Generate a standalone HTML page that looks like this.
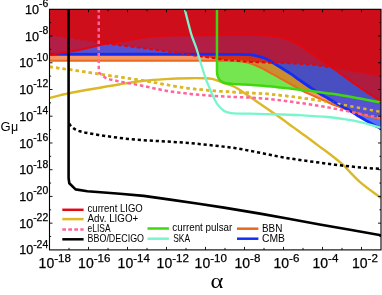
<!DOCTYPE html>
<html><head><meta charset="utf-8"><title>chart</title>
<style>html,body{margin:0;padding:0;background:#fff;}svg{display:block;}svg{will-change:transform;}text{font-family:"Liberation Sans",sans-serif;fill:#000;}.ser{font-family:"Liberation Serif",serif;}</style></head><body>
<svg width="382" height="295" viewBox="0 0 382 295">
<rect x="0" y="0" width="382" height="295" fill="#fff"/>
<defs><clipPath id="c"><rect x="49.5" y="9.3" width="331.5" height="240.6"/></clipPath></defs>
<defs><clipPath id="yd"><path clip-rule="evenodd" d="M49.5 9.3 H381.0 V249.9 H49.5 Z M49.5 60.7 L95.1 60.7 L140.8 60.6 L186.4 60.6 L232.0 60.7 L233.5 60.8 L235.0 60.9 L236.5 61.0 L238.0 61.2 L239.7 61.4 L241.4 61.5 L243.1 61.8 L244.8 62.0 L246.1 62.2 L247.4 62.5 L248.7 62.8 L250.0 63.2 L250.8 63.5 L251.6 63.8 L252.3 64.1 L253.1 64.4 L253.8 64.7 L254.6 64.9 L255.3 65.2 L256.0 65.5 L257.0 66.0 L258.0 66.4 L258.9 66.9 L259.9 67.4 L261.0 67.9 L262.2 68.4 L263.3 68.9 L264.4 69.5 L266.5 70.6 L268.6 71.8 L270.7 73.0 L272.8 74.2 L274.9 75.4 L276.9 76.5 L279.0 77.6 L281.1 78.8 L282.8 79.7 L284.5 80.7 L286.2 81.6 L287.9 82.6 L289.7 83.6 L291.4 84.6 L293.2 85.6 L295.0 86.6 L297.1 87.8 L299.2 89.0 L301.3 90.2 L303.5 91.3 L306.6 92.8 L309.7 94.2 L312.9 95.6 L316.0 97.0 L318.0 97.9 L320.0 98.8 L322.1 99.7 L324.1 100.6 L326.1 101.5 L328.2 102.5 L330.2 103.4 L332.3 104.3 L334.2 105.0 L336.1 105.7 L338.1 106.4 L340.0 107.1 L342.6 108.1 L345.1 109.1 L347.7 110.1 L350.3 111.0 L352.7 111.8 L355.1 112.5 L357.5 113.3 L359.9 114.0 L361.5 114.5 L363.2 115.0 L364.8 115.5 L366.5 115.9 L370.1 116.8 L373.7 117.6 L377.4 118.4 L381.0 119.2 L382.0 8.3 L48.5 8.3Z M49.5 54.3 L96.1 54.3 L142.8 54.3 L189.4 54.2 L236.0 54.3 L239.4 54.3 L242.7 54.4 L246.1 54.5 L249.4 54.7 L251.5 54.9 L253.6 55.2 L255.7 55.6 L257.8 56.1 L259.6 56.6 L261.3 57.1 L263.0 57.7 L264.7 58.3 L265.9 58.8 L267.1 59.5 L268.3 60.1 L269.5 60.8 L272.0 62.2 L274.5 63.7 L277.0 65.2 L279.5 66.7 L282.5 68.5 L285.4 70.4 L288.4 72.3 L291.3 74.2 L293.4 75.7 L295.6 77.2 L297.7 78.7 L299.8 80.2 L302.7 82.2 L305.6 84.2 L308.5 86.2 L311.4 88.2 L313.4 89.5 L315.3 90.8 L317.3 92.1 L319.3 93.4 L321.5 94.7 L323.7 96.0 L326.0 97.2 L328.2 98.5 L330.2 99.7 L332.2 100.9 L334.3 102.0 L336.3 103.2 L337.7 104.0 L339.1 104.8 L340.6 105.5 L342.0 106.3 L343.8 107.3 L345.5 108.2 L347.3 109.2 L349.0 110.2 L351.0 111.4 L353.0 112.7 L355.0 114.0 L357.0 115.2 L359.0 116.4 L361.0 117.6 L363.0 118.7 L365.0 119.9 L367.0 121.1 L369.0 122.3 L371.0 123.5 L373.0 124.6 L375.0 125.6 L377.0 126.6 L379.0 127.6 L381.0 128.6 L382.0 8.3 L48.5 8.3Z"/></clipPath></defs>
<g clip-path="url(#c)" fill="none" stroke-linejoin="round">
<path d="M49.50 66.70 C66.33 69.20 83.17 71.70 100.00 74.20 C114.57 76.36 129.15 78.40 143.70 80.70 C150.82 81.83 157.89 83.31 165.00 84.50 C173.42 85.91 181.83 87.40 190.30 88.50 C197.51 89.44 204.76 90.01 212.00 90.60 C219.89 91.24 227.80 91.74 235.70 92.20 C243.73 92.67 251.78 92.85 259.80 93.40 C267.21 93.91 274.61 94.59 282.00 95.40 C288.02 96.06 294.00 96.98 300.00 97.80 C307.17 98.78 314.36 99.62 321.50 100.80 C330.83 102.35 340.10 104.27 349.40 106.00 C359.93 107.97 370.47 109.93 381.00 111.90" stroke="rgb(220,184,38)" stroke-width="2.5" stroke-dasharray="3.3 3.3"/>
<polygon points="217.0,9.0 217.0,24.6 217.0,40.3 217.0,55.9 217.0,71.5 217.0,72.3 217.1,73.0 217.2,73.8 217.3,74.5 217.5,75.3 217.7,76.1 217.9,76.8 218.2,77.6 218.5,78.2 218.8,78.7 219.2,79.3 219.6,79.8 220.0,80.2 220.3,80.6 220.8,81.0 221.2,81.3 221.7,81.6 222.3,82.0 222.9,82.2 223.5,82.5 224.2,82.8 224.8,83.0 225.5,83.2 226.2,83.3 227.9,83.5 229.5,83.7 231.2,83.9 232.9,84.0 235.6,84.2 238.4,84.3 241.1,84.5 243.9,84.6 247.9,84.8 251.9,85.1 255.8,85.3 259.8,85.6 264.9,86.0 269.9,86.5 275.0,87.0 280.0,87.5 283.9,87.9 287.9,88.3 291.8,88.8 295.7,89.2 299.6,89.7 303.6,90.1 307.5,90.6 311.4,91.1 315.3,91.6 319.3,92.1 323.2,92.7 327.1,93.2 330.3,93.6 333.5,94.1 336.6,94.5 339.8,95.0 344.9,95.9 349.9,96.8 355.0,97.7 360.0,98.6 365.3,99.6 370.5,100.5 375.8,101.5 381.0,102.5 382.0,8.3" fill="rgb(60,220,5)" fill-opacity="0.7"/>
<polygon points="49.5,60.7 95.1,60.7 140.8,60.6 186.4,60.6 232.0,60.7 233.5,60.8 235.0,60.9 236.5,61.0 238.0,61.2 239.7,61.4 241.4,61.5 243.1,61.8 244.8,62.0 246.1,62.2 247.4,62.5 248.7,62.8 250.0,63.2 250.8,63.5 251.6,63.8 252.3,64.1 253.1,64.4 253.8,64.7 254.6,64.9 255.3,65.2 256.0,65.5 257.0,66.0 258.0,66.4 258.9,66.9 259.9,67.4 261.0,67.9 262.2,68.4 263.3,68.9 264.4,69.5 266.5,70.6 268.6,71.8 270.7,73.0 272.8,74.2 274.9,75.4 276.9,76.5 279.0,77.6 281.1,78.8 282.8,79.7 284.5,80.7 286.2,81.6 287.9,82.6 289.7,83.6 291.4,84.6 293.2,85.6 295.0,86.6 297.1,87.8 299.2,89.0 301.3,90.2 303.5,91.3 306.6,92.8 309.7,94.2 312.9,95.6 316.0,97.0 318.0,97.9 320.0,98.8 322.1,99.7 324.1,100.6 326.1,101.5 328.2,102.5 330.2,103.4 332.3,104.3 334.2,105.0 336.1,105.7 338.1,106.4 340.0,107.1 342.6,108.1 345.1,109.1 347.7,110.1 350.3,111.0 352.7,111.8 355.1,112.5 357.5,113.3 359.9,114.0 361.5,114.5 363.2,115.0 364.8,115.5 366.5,115.9 370.1,116.8 373.7,117.6 377.4,118.4 381.0,119.2 382.0,8.3 48.5,8.3" fill="rgb(240,100,30)" fill-opacity="0.68"/>
<polygon points="49.5,54.3 96.1,54.3 142.8,54.3 189.4,54.2 236.0,54.3 239.4,54.3 242.7,54.4 246.1,54.5 249.4,54.7 251.5,54.9 253.6,55.2 255.7,55.6 257.8,56.1 259.6,56.6 261.3,57.1 263.0,57.7 264.7,58.3 265.9,58.8 267.1,59.5 268.3,60.1 269.5,60.8 272.0,62.2 274.5,63.7 277.0,65.2 279.5,66.7 282.5,68.5 285.4,70.4 288.4,72.3 291.3,74.2 293.4,75.7 295.6,77.2 297.7,78.7 299.8,80.2 302.7,82.2 305.6,84.2 308.5,86.2 311.4,88.2 313.4,89.5 315.3,90.8 317.3,92.1 319.3,93.4 321.5,94.7 323.7,96.0 326.0,97.2 328.2,98.5 330.2,99.7 332.2,100.9 334.3,102.0 336.3,103.2 337.7,104.0 339.1,104.8 340.6,105.5 342.0,106.3 343.8,107.3 345.5,108.2 347.3,109.2 349.0,110.2 351.0,111.4 353.0,112.7 355.0,114.0 357.0,115.2 359.0,116.4 361.0,117.6 363.0,118.7 365.0,119.9 367.0,121.1 369.0,122.3 371.0,123.5 373.0,124.6 375.0,125.6 377.0,126.6 379.0,127.6 381.0,128.6 382.0,8.3 48.5,8.3" fill="rgb(18,52,255)" fill-opacity="0.7"/>
<polygon points="49.5,54.8 57.1,53.6 64.8,52.4 72.4,51.2 80.0,49.8 86.3,48.4 92.6,46.8 98.8,45.2 105.1,43.8 110.8,42.8 116.5,41.9 122.3,41.1 128.0,40.2 131.9,39.5 135.9,38.8 139.8,38.2 143.8,37.6 147.8,37.1 151.9,36.7 155.9,36.3 160.0,36.0 165.0,35.7 170.0,35.5 175.0,35.3 180.0,35.2 185.0,35.1 190.0,35.2 195.0,35.2 200.0,35.2 212.5,35.2 225.0,35.1 237.5,35.1 250.0,35.1 254.4,35.1 258.8,35.1 263.1,35.2 267.5,35.4 270.0,35.6 272.6,35.8 275.1,36.2 277.6,36.6 280.2,37.1 282.8,37.8 285.3,38.5 287.8,39.4 290.3,40.4 292.8,41.6 295.2,42.9 297.6,44.2 299.7,45.4 301.8,46.7 303.9,48.0 305.9,49.3 308.0,50.8 310.1,52.3 312.1,53.8 314.2,55.3 318.7,58.4 323.2,61.4 327.7,64.5 332.2,67.6 338.0,71.7 343.7,75.9 349.4,80.1 355.2,84.2 358.5,86.5 361.9,88.9 365.3,91.2 368.7,93.4 371.7,95.3 374.8,97.2 377.9,99.1 381.0,101.0 382.0,8.3 48.5,8.3" fill="rgb(218,8,10)" fill-opacity="0.7"/>
<polygon points="49.5,34.4 57.1,35.6 64.7,36.8 72.4,38.0 80.0,39.2 84.5,39.9 89.0,40.6 93.5,41.3 98.0,42.0 99.8,42.3 101.5,42.7 103.3,43.1 105.1,43.4 114.8,44.7 124.4,45.8 134.1,47.0 143.8,48.2 147.9,48.7 151.9,49.3 156.0,49.9 160.0,50.5 165.3,51.2 170.5,51.9 175.8,52.7 181.0,53.4 186.2,54.2 191.4,55.0 196.7,55.8 201.9,56.6 205.4,57.1 209.0,57.5 212.5,57.9 216.0,58.4 217.7,58.7 219.4,59.1 221.1,59.4 222.8,59.7 226.0,60.0 229.2,60.3 232.5,60.5 235.7,60.7 238.3,60.9 240.8,61.2 243.4,61.4 246.0,61.6 248.9,61.8 251.9,61.9 254.8,62.1 257.8,62.2 260.7,62.3 263.6,62.5 266.6,62.6 269.5,62.7 273.7,62.8 277.9,62.9 282.1,63.1 286.3,63.2 289.7,63.3 293.1,63.5 296.4,63.6 299.8,63.8 303.3,64.0 306.8,64.3 310.3,64.5 313.8,64.9 318.4,65.5 322.9,66.2 327.5,66.9 332.0,67.6 337.4,68.5 342.8,69.4 348.2,70.4 353.6,71.3 356.3,71.7 359.0,72.1 361.7,72.5 364.4,72.9 368.6,73.7 372.7,74.5 376.9,75.4 381.0,76.2 382.0,8.3 48.5,8.3" fill="rgb(218,8,10)" fill-opacity="0.7"/>
<path d="M49.50 97.80 C55.67 96.37 61.79 94.74 68.00 93.50 C78.63 91.37 89.33 89.59 100.00 87.70 C106.66 86.52 113.32 85.35 120.00 84.30 C127.89 83.05 135.77 81.72 143.70 80.80 C150.78 79.98 157.89 79.50 165.00 79.10 C173.33 78.63 181.66 78.37 190.00 78.20 C195.00 78.10 200.00 78.14 205.00 78.30 C207.34 78.37 209.69 78.50 212.00 78.90 C213.71 79.20 215.36 79.83 217.00 80.40 C218.69 80.99 220.32 81.78 222.00 82.40 C223.48 82.95 225.00 83.40 226.50 83.90 C228.10 84.43 229.74 84.85 231.30 85.50 C233.28 86.32 235.24 87.23 237.10 88.30 C239.44 89.64 241.66 91.19 243.90 92.70 C249.53 96.49 255.11 100.36 260.70 104.20 C265.74 107.66 270.81 111.07 275.80 114.60 C281.98 118.97 288.07 123.47 294.20 127.90 C298.40 130.93 302.63 133.93 306.80 137.00 C310.56 139.76 314.26 142.61 318.00 145.40 C321.99 148.38 326.06 151.26 330.00 154.30 C333.96 157.36 338.03 160.30 341.70 163.70 C348.27 169.78 353.95 176.81 360.70 182.70 C367.08 188.27 374.23 192.90 381.00 198.00" stroke="rgb(220,184,38)" stroke-width="2.4"/>
<path d="M49.50 60.70 C110.33 60.70 171.17 60.54 232.00 60.70 C234.01 60.71 236.00 61.00 238.00 61.20 C240.25 61.43 242.52 61.63 244.75 62.00 C246.52 62.30 248.27 62.70 250.00 63.20 C251.06 63.51 252.07 64.00 253.10 64.40 C254.07 64.77 255.05 65.08 256.00 65.50 C257.32 66.08 258.59 66.78 259.90 67.40 C261.39 68.11 262.94 68.73 264.40 69.50 C267.24 71.00 270.00 72.64 272.80 74.20 C275.56 75.74 278.34 77.26 281.10 78.80 C283.37 80.06 285.64 81.33 287.90 82.60 C290.27 83.93 292.63 85.28 295.00 86.60 C297.83 88.18 300.60 89.86 303.50 91.30 C307.60 93.33 311.83 95.12 316.00 97.00 C318.69 98.22 321.40 99.39 324.10 100.60 C326.84 101.83 329.52 103.17 332.30 104.30 C334.83 105.33 337.44 106.15 340.00 107.10 C343.44 108.38 346.83 109.80 350.30 111.00 C353.47 112.10 356.69 113.03 359.90 114.00 C362.09 114.66 364.28 115.35 366.50 115.90 C371.31 117.09 376.17 118.10 381.00 119.20" stroke="rgb(232,104,32)" stroke-width="2"/>
<path d="M49.50 54.30 C111.67 54.30 173.83 54.18 236.00 54.30 C240.47 54.31 244.95 54.33 249.40 54.70 C252.23 54.93 255.04 55.45 257.80 56.10 C260.15 56.65 262.46 57.40 264.70 58.30 C266.37 58.97 267.93 59.91 269.50 60.80 C272.87 62.71 276.20 64.67 279.50 66.70 C283.47 69.14 287.42 71.62 291.30 74.20 C294.19 76.12 296.95 78.22 299.80 80.20 C303.65 82.88 307.51 85.57 311.40 88.20 C314.01 89.97 316.61 91.75 319.30 93.40 C322.21 95.19 325.24 96.79 328.20 98.50 C330.90 100.06 333.58 101.66 336.30 103.20 C338.18 104.26 340.11 105.26 342.00 106.30 C344.34 107.59 346.70 108.84 349.00 110.20 C351.70 111.80 354.31 113.57 357.00 115.20 C359.64 116.80 362.33 118.33 365.00 119.90 C367.67 121.47 370.28 123.12 373.00 124.60 C375.62 126.02 378.33 127.27 381.00 128.60" stroke="rgb(20,45,245)" stroke-width="2.8"/>
<path d="M49.50 54.80 C59.67 53.13 69.89 51.80 80.00 49.80 C88.44 48.13 96.66 45.49 105.10 43.80 C112.68 42.28 120.37 41.42 128.00 40.20 C133.27 39.36 138.51 38.29 143.80 37.60 C149.18 36.89 154.59 36.36 160.00 36.00 C166.66 35.56 173.33 35.33 180.00 35.20 C186.67 35.07 193.33 35.21 200.00 35.20 C216.67 35.18 233.33 35.05 250.00 35.10 C255.83 35.12 261.67 35.08 267.50 35.40 C270.89 35.58 274.27 35.94 277.60 36.60 C281.06 37.28 284.50 38.15 287.80 39.40 C291.20 40.69 294.41 42.45 297.60 44.20 C300.45 45.76 303.20 47.50 305.90 49.30 C308.74 51.20 311.40 53.35 314.20 55.30 C320.17 59.45 326.26 63.41 332.20 67.60 C339.93 73.05 347.48 78.74 355.20 84.20 C359.65 87.34 364.14 90.43 368.70 93.40 C372.74 96.03 376.90 98.47 381.00 101.00" stroke="rgb(228,6,14)" stroke-width="2"/>
<path d="M49.50 34.40 C59.67 36.00 69.83 37.61 80.00 39.20 C86.00 40.14 92.01 41.00 98.00 42.00 C100.38 42.40 102.71 43.08 105.10 43.40 C117.98 45.14 130.91 46.53 143.80 48.20 C149.21 48.90 154.60 49.74 160.00 50.50 C167.00 51.48 174.01 52.38 181.00 53.40 C187.97 54.42 194.92 55.60 201.90 56.60 C206.59 57.27 211.31 57.70 216.00 58.40 C218.28 58.74 220.51 59.43 222.80 59.70 C227.08 60.20 231.40 60.35 235.70 60.70 C239.13 60.98 242.56 61.37 246.00 61.60 C249.93 61.87 253.87 62.02 257.80 62.20 C261.70 62.38 265.60 62.56 269.50 62.70 C275.10 62.90 280.70 63.00 286.30 63.20 C290.80 63.36 295.30 63.52 299.80 63.80 C304.47 64.09 309.15 64.35 313.80 64.90 C319.89 65.62 325.94 66.63 332.00 67.60 C339.21 68.76 346.39 70.12 353.60 71.30 C357.19 71.89 360.82 72.26 364.40 72.90 C369.95 73.89 375.47 75.10 381.00 76.20" stroke="rgb(222,8,16)" stroke-width="1.9" stroke-dasharray="3.7 2.6"/>
<path d="M217.00 9.00 C217.00 29.83 216.90 50.67 217.00 71.50 C217.00 72.50 217.11 73.51 217.30 74.50 C217.51 75.56 217.77 76.61 218.20 77.60 C218.55 78.40 219.05 79.12 219.60 79.80 C220.06 80.37 220.60 80.88 221.20 81.30 C221.91 81.79 222.70 82.18 223.50 82.50 C224.37 82.85 225.27 83.15 226.20 83.30 C228.42 83.65 230.66 83.84 232.90 84.00 C236.56 84.27 240.23 84.38 243.90 84.60 C249.20 84.92 254.51 85.17 259.80 85.60 C266.54 86.14 273.27 86.83 280.00 87.50 C285.24 88.03 290.47 88.60 295.70 89.20 C300.94 89.80 306.17 90.43 311.40 91.10 C316.64 91.77 321.87 92.48 327.10 93.20 C331.34 93.78 335.58 94.31 339.80 95.00 C346.55 96.11 353.27 97.38 360.00 98.60 C367.00 99.88 374.00 101.20 381.00 102.50" stroke="rgb(64,214,16)" stroke-width="2.5"/>
<g clip-path="url(#yd)"><path d="M49.50 66.70 C66.33 69.20 83.17 71.70 100.00 74.20 C114.57 76.36 129.15 78.40 143.70 80.70 C150.82 81.83 157.89 83.31 165.00 84.50 C173.42 85.91 181.83 87.40 190.30 88.50 C197.51 89.44 204.76 90.01 212.00 90.60 C219.89 91.24 227.80 91.74 235.70 92.20 C243.73 92.67 251.78 92.85 259.80 93.40 C267.21 93.91 274.61 94.59 282.00 95.40 C288.02 96.06 294.00 96.98 300.00 97.80 C307.17 98.78 314.36 99.62 321.50 100.80 C330.83 102.35 340.10 104.27 349.40 106.00 C359.93 107.97 370.47 109.93 381.00 111.90" stroke="rgb(220,184,38)" stroke-width="2.5" stroke-dasharray="3.3 3.3"/></g>
<path d="M98.80 9.00 C98.80 29.50 98.67 50.00 98.80 70.50 C98.80 71.15 98.94 71.81 99.20 72.40 C99.42 72.90 99.81 73.32 100.20 73.70 C100.68 74.16 101.28 74.48 101.80 74.90 C102.55 75.51 103.21 76.23 104.00 76.80 C104.89 77.44 105.81 78.03 106.80 78.50 C107.66 78.91 108.58 79.17 109.50 79.40 C110.68 79.70 111.90 79.84 113.10 80.10 C115.64 80.64 118.15 81.31 120.70 81.80 C124.85 82.61 129.03 83.26 133.20 84.00 C135.80 84.46 138.41 84.86 141.00 85.40 C149.01 87.06 156.93 89.21 165.00 90.60 C173.38 92.05 181.85 92.96 190.30 93.90 C197.52 94.70 204.76 95.31 212.00 95.80 C219.89 96.34 227.80 96.60 235.70 97.00 C243.73 97.40 251.78 97.59 259.80 98.20 C267.22 98.76 274.61 99.62 282.00 100.50 C288.01 101.22 294.00 102.13 300.00 103.00 C307.17 104.03 314.36 104.99 321.50 106.20 C328.69 107.42 335.85 108.87 343.00 110.30 C350.15 111.73 357.24 113.42 364.40 114.80 C369.91 115.86 375.47 116.67 381.00 117.60" stroke="rgb(255,100,155)" stroke-width="2.5" stroke-dasharray="3.5 2.8"/>
<path d="M184.70 9.00 C186.93 17.53 188.89 26.15 191.40 34.60 C192.76 39.16 194.80 43.49 196.30 48.00 C197.60 51.92 198.58 55.95 199.80 59.90 C201.82 66.45 203.76 73.02 206.00 79.50 C207.00 82.40 208.32 85.17 209.50 88.00 C210.56 90.54 211.52 93.12 212.70 95.60 C213.95 98.22 215.17 100.89 216.80 103.30 C218.23 105.42 219.88 107.41 221.80 109.10 C223.26 110.38 224.97 111.44 226.80 112.10 C228.94 112.87 231.24 113.15 233.50 113.30 C239.09 113.68 244.70 113.56 250.30 113.70 C260.97 113.96 271.63 114.18 282.30 114.50 C288.20 114.68 294.10 114.88 300.00 115.20 C309.24 115.71 318.48 116.19 327.70 117.00 C332.82 117.45 337.92 118.22 343.00 119.00 C348.15 119.79 353.32 120.54 358.40 121.70 C366.00 123.44 373.47 125.70 381.00 127.70" stroke="rgb(120,245,205)" stroke-width="2.3"/>
<path d="M69.20 123.60 C69.63 124.23 70.00 124.91 70.50 125.50 C71.11 126.22 71.77 126.91 72.50 127.50 C73.47 128.28 74.49 129.04 75.60 129.60 C77.00 130.31 78.50 130.84 80.00 131.30 C81.87 131.87 83.78 132.32 85.70 132.70 C89.88 133.52 94.08 134.26 98.30 134.90 C106.65 136.16 115.01 137.42 123.40 138.40 C130.15 139.19 136.92 139.71 143.70 140.20 C150.83 140.71 157.97 140.94 165.10 141.40 C173.50 141.94 181.91 142.48 190.30 143.20 C198.68 143.92 207.04 144.78 215.40 145.70 C222.18 146.45 228.96 147.15 235.70 148.20 C242.87 149.32 249.97 150.82 257.10 152.20 C265.51 153.82 273.86 155.72 282.30 157.20 C290.64 158.66 299.03 159.78 307.40 161.00 C312.09 161.68 316.80 162.28 321.50 162.90 C328.63 163.84 335.75 164.90 342.90 165.70 C350.05 166.50 357.23 167.08 364.40 167.70 C369.93 168.18 375.47 168.57 381.00 169.00" stroke="#000" stroke-width="2.5" stroke-dasharray="3.2 2.8"/>
<polyline points="68.6,9.0 68.6,178.3 69.3,183.2 75.6,189.4 87.4,191.2 103.9,192.5 120.0,193.7 143.7,195.9 170.2,199.6 197.0,203.5 224.0,207.6 260.0,213.6 290.0,219.0 319.7,224.5 350.0,229.8 381.0,235.3" stroke="#000" stroke-width="2.6"/>
</g>
<rect x="49.5" y="9.3" width="331.5" height="240.6" fill="none" stroke="#000" stroke-width="1.1"/>
<path d="M69.00 249.9 v-2.0 M69.00 9.3 v2.0 M88.50 249.9 v-3.0 M88.50 9.3 v3.0 M108.00 249.9 v-2.0 M108.00 9.3 v2.0 M127.50 249.9 v-3.0 M127.50 9.3 v3.0 M147.00 249.9 v-2.0 M147.00 9.3 v2.0 M166.50 249.9 v-3.0 M166.50 9.3 v3.0 M186.00 249.9 v-2.0 M186.00 9.3 v2.0 M205.50 249.9 v-3.0 M205.50 9.3 v3.0 M225.00 249.9 v-2.0 M225.00 9.3 v2.0 M244.50 249.9 v-3.0 M244.50 9.3 v3.0 M264.00 249.9 v-2.0 M264.00 9.3 v2.0 M283.50 249.9 v-3.0 M283.50 9.3 v3.0 M303.00 249.9 v-2.0 M303.00 9.3 v2.0 M322.50 249.9 v-3.0 M322.50 9.3 v3.0 M342.00 249.9 v-2.0 M342.00 9.3 v2.0 M361.50 249.9 v-3.0 M361.50 9.3 v3.0 M49.5 22.67 h1.6 M381.0 22.67 h-1.6 M49.5 36.03 h3.0 M381.0 36.03 h-3.0 M49.5 49.40 h1.6 M381.0 49.40 h-1.6 M49.5 62.77 h3.0 M381.0 62.77 h-3.0 M49.5 76.13 h1.6 M381.0 76.13 h-1.6 M49.5 89.50 h3.0 M381.0 89.50 h-3.0 M49.5 102.87 h1.6 M381.0 102.87 h-1.6 M49.5 116.23 h3.0 M381.0 116.23 h-3.0 M49.5 129.60 h1.6 M381.0 129.60 h-1.6 M49.5 142.97 h3.0 M381.0 142.97 h-3.0 M49.5 156.33 h1.6 M381.0 156.33 h-1.6 M49.5 169.70 h3.0 M381.0 169.70 h-3.0 M49.5 183.07 h1.6 M381.0 183.07 h-1.6 M49.5 196.43 h3.0 M381.0 196.43 h-3.0 M49.5 209.80 h1.6 M381.0 209.80 h-1.6 M49.5 223.17 h3.0 M381.0 223.17 h-3.0 M49.5 236.53 h1.6 M381.0 236.53 h-1.6" stroke="#000" stroke-width="0.9" fill="none"/>
<text x="38.6" y="268.3" font-size="14" stroke="#000" stroke-width="0.25">10<tspan dy="-6.8" font-size="11.6">-18</tspan></text>
<text x="78.1" y="268.3" font-size="14" stroke="#000" stroke-width="0.25">10<tspan dy="-6.8" font-size="11.6">-16</tspan></text>
<text x="117.6" y="268.3" font-size="14" stroke="#000" stroke-width="0.25">10<tspan dy="-6.8" font-size="11.6">-14</tspan></text>
<text x="156.6" y="268.3" font-size="14" stroke="#000" stroke-width="0.25">10<tspan dy="-6.8" font-size="11.6">-12</tspan></text>
<text x="194.6" y="268.3" font-size="14" stroke="#000" stroke-width="0.25">10<tspan dy="-6.8" font-size="11.6">-10</tspan></text>
<text x="234.5" y="268.3" font-size="14" stroke="#000" stroke-width="0.25">10<tspan dy="-6.8" font-size="11.6">-8</tspan></text>
<text x="273.5" y="268.3" font-size="14" stroke="#000" stroke-width="0.25">10<tspan dy="-6.8" font-size="11.6">-6</tspan></text>
<text x="312.5" y="268.3" font-size="14" stroke="#000" stroke-width="0.25">10<tspan dy="-6.8" font-size="11.6">-4</tspan></text>
<text x="352.0" y="268.3" font-size="14" stroke="#000" stroke-width="0.25">10<tspan dy="-6.8" font-size="11.6">-2</tspan></text>
<text x="48.2" y="13.8" font-size="12.6" text-anchor="end" stroke="#000" stroke-width="0.25">10<tspan dy="-6.6" font-size="10.4">-6</tspan></text>
<text x="48.2" y="40.5" font-size="12.6" text-anchor="end" stroke="#000" stroke-width="0.25">10<tspan dy="-6.6" font-size="10.4">-8</tspan></text>
<text x="48.2" y="67.3" font-size="12.6" text-anchor="end" stroke="#000" stroke-width="0.25">10<tspan dy="-6.6" font-size="10.4">-10</tspan></text>
<text x="48.2" y="94.0" font-size="12.6" text-anchor="end" stroke="#000" stroke-width="0.25">10<tspan dy="-6.6" font-size="10.4">-12</tspan></text>
<text x="48.2" y="120.7" font-size="12.6" text-anchor="end" stroke="#000" stroke-width="0.25">10<tspan dy="-6.6" font-size="10.4">-14</tspan></text>
<text x="48.2" y="147.5" font-size="12.6" text-anchor="end" stroke="#000" stroke-width="0.25">10<tspan dy="-6.6" font-size="10.4">-16</tspan></text>
<text x="48.2" y="174.2" font-size="12.6" text-anchor="end" stroke="#000" stroke-width="0.25">10<tspan dy="-6.6" font-size="10.4">-18</tspan></text>
<text x="48.2" y="200.9" font-size="12.6" text-anchor="end" stroke="#000" stroke-width="0.25">10<tspan dy="-6.6" font-size="10.4">-20</tspan></text>
<text x="48.2" y="227.7" font-size="12.6" text-anchor="end" stroke="#000" stroke-width="0.25">10<tspan dy="-6.6" font-size="10.4">-22</tspan></text>
<text x="48.2" y="254.4" font-size="12.6" text-anchor="end" stroke="#000" stroke-width="0.25">10<tspan dy="-6.6" font-size="10.4">-24</tspan></text>
<text x="0.5" y="130.8" font-size="13">G<tspan font-size="12.5" dx="0.4">μ</tspan></text>
<text class="ser" transform="translate(210.4 288.4) scale(1.14 0.95)" x="0" y="0" font-size="21.5">α</text>
<path d="M62.3 209.8 H83.6" stroke="rgb(225,10,20)" stroke-width="2.5" fill="none"/>
<text x="87.6" y="211.8" font-size="10.8" fill="#1c1c1c" textLength="55.2" lengthAdjust="spacingAndGlyphs">current LIGO</text>
<path d="M62.3 219.1 H83.6" stroke="rgb(220,184,38)" stroke-width="2.5" fill="none"/>
<text x="87.6" y="221.5" font-size="10.8" fill="#1c1c1c" textLength="50.6" lengthAdjust="spacingAndGlyphs">Adv. LIGO+</text>
<path d="M62.3 229.6 H83.6" stroke="rgb(255,100,155)" stroke-width="2.5" fill="none" stroke-dasharray="3.7 2.3"/>
<text x="87.6" y="232.1" font-size="10.8" fill="#1c1c1c" textLength="23.0" lengthAdjust="spacingAndGlyphs">eLISA</text>
<path d="M62.3 239.3 H83.6" stroke="#000" stroke-width="2.5" fill="none"/>
<text x="87.6" y="242.1" font-size="10.8" fill="#1c1c1c" textLength="56.4" lengthAdjust="spacingAndGlyphs">BBO/DECIGO</text>
<path d="M147.5 228.5 H168.9" stroke="rgb(64,214,16)" stroke-width="2.5" fill="none"/>
<text x="172.3" y="230.8" font-size="10.8" fill="#1c1c1c" textLength="60.0" lengthAdjust="spacingAndGlyphs">current pulsar</text>
<path d="M147.5 238.7 H168.9" stroke="rgb(120,245,205)" stroke-width="2.5" fill="none"/>
<text x="173.2" y="242.4" font-size="10.8" fill="#1c1c1c" textLength="16.8" lengthAdjust="spacingAndGlyphs">SKA</text>
<path d="M237 228.7 H258.4" stroke="rgb(232,104,32)" stroke-width="2.5" fill="none"/>
<text x="262.0" y="231.7" font-size="10.8" fill="#1c1c1c" textLength="20.4" lengthAdjust="spacingAndGlyphs">BBN</text>
<path d="M237 238.7 H258.4" stroke="rgb(20,45,245)" stroke-width="2.5" fill="none"/>
<text x="262.0" y="241.9" font-size="10.8" fill="#1c1c1c" textLength="23.0" lengthAdjust="spacingAndGlyphs">CMB</text>
</svg></body></html>
